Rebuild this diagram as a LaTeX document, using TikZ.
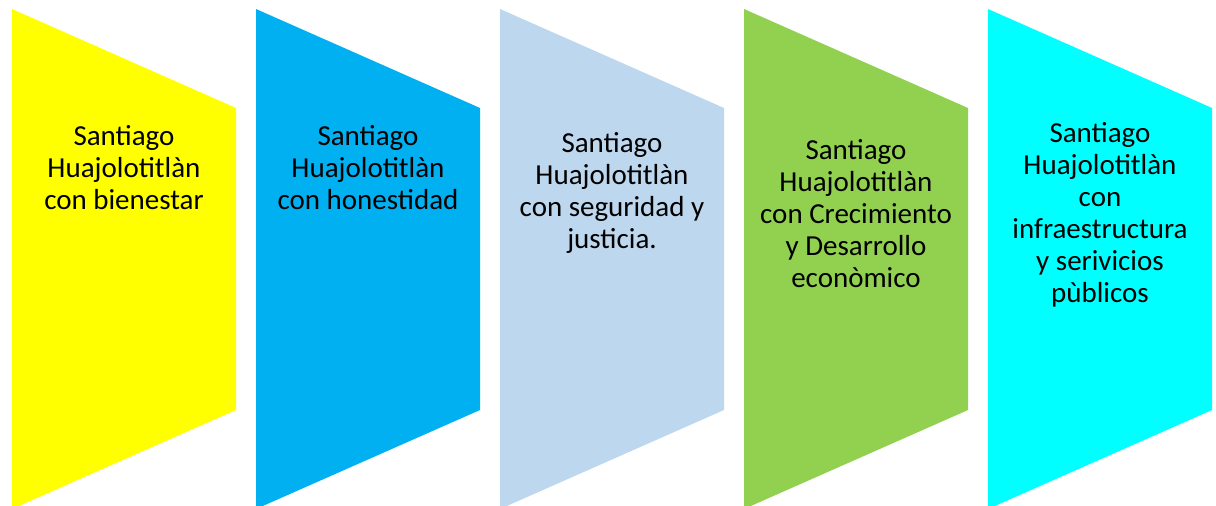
\documentclass[tikz,border=0pt]{standalone}
\usepackage{fontspec}
\setmainfont{Carlito}
\definecolor{cYellow}{HTML}{FFFF00}
\definecolor{cBlue}{HTML}{00B0F0}
\definecolor{cLight}{HTML}{BDD7EE}
\definecolor{cGreen}{HTML}{92D050}
\definecolor{cCyan}{HTML}{00FFFF}
\tikzset{
  lbl/.style={align=center, inner sep=0pt, anchor=base, text=black,
              font=\fontsize{29}{32}\selectfont},
}
\newcommand{\chev}[2]{\fill[#2] (#1,9) -- (#1+224,108) -- (#1+224,410) -- (#1,509) -- cycle;}
\begin{document}
\begin{tikzpicture}[x=1pt,y=-1pt]
\useasboundingbox (0,0) rectangle (1216,506);
\begin{scope}
\clip (0,0) rectangle (1216,506);
\chev{12}{cYellow}
\chev{256}{cBlue}
\chev{500}{cLight}
\chev{744}{cGreen}
\chev{988}{cCyan}
\end{scope}
\node[lbl] (t1) at (124,209) {Santiago\\Huajolotitlàn\\con bienestar};
\node[lbl] (t2) at (368,209) {Santiago\\Huajolotitlàn\\con honestidad};
\node[lbl] (t3) at (612,248) {Santiago\\Huajolotitlàn\\con seguridad y\\justicia.};
\node[lbl] (t4) at (856,287) {Santiago\\Huajolotitlàn\\con Crecimiento\\y Desarrollo\\econòmico};
\node[lbl] (t5) at (1100,302) {Santiago\\Huajolotitlàn\\con\\infraestructura\\y serivicios\\pùblicos};
\end{tikzpicture}
\end{document}
